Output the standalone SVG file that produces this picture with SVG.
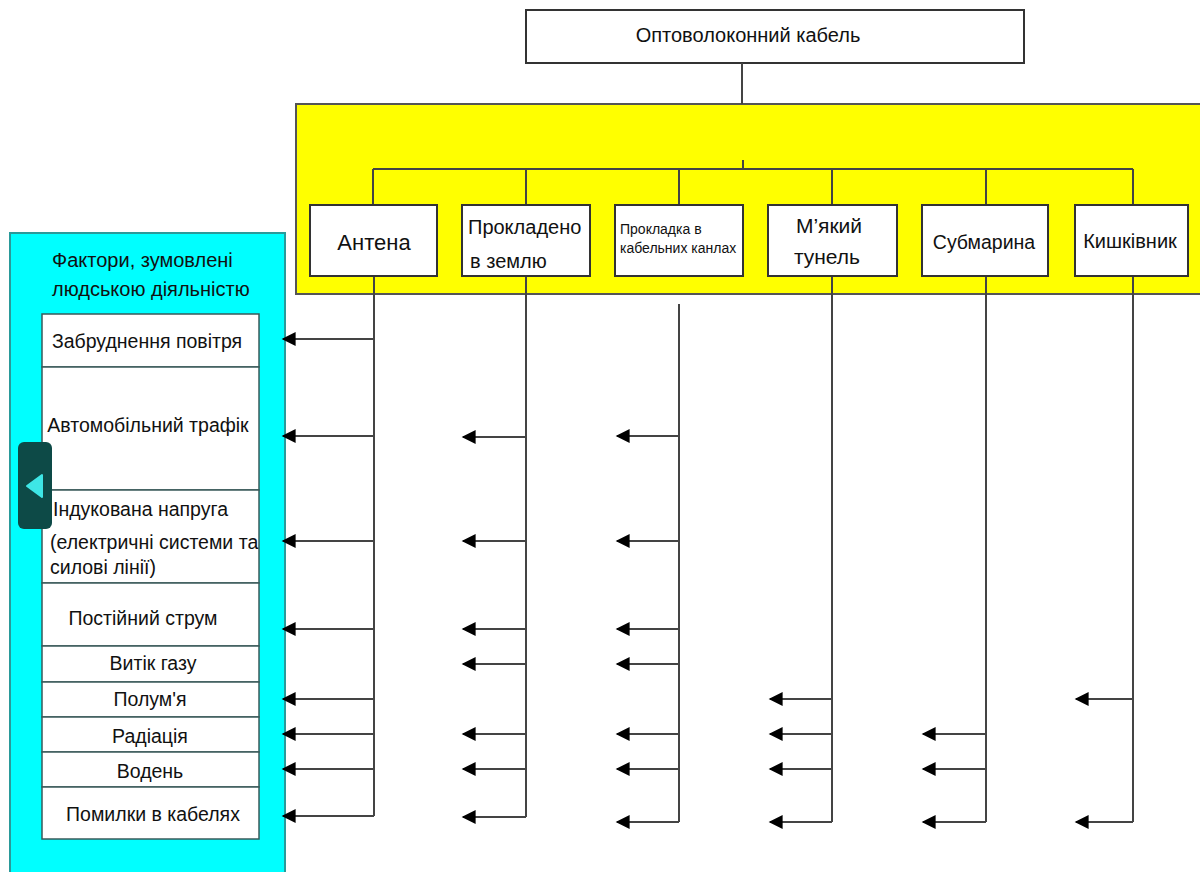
<svg xmlns="http://www.w3.org/2000/svg" width="1200" height="872" viewBox="0 0 1200 872">
<defs>
<style>
.box{fill:#fff;stroke:#333;stroke-width:2}
.cell{fill:#fff;stroke:#3a5a5a;stroke-width:1.5}
.t{font-family:"Liberation Sans","Open Sans",sans-serif;fill:#111}
.c{text-anchor:middle}
.f{font-size:19.5px}
.ln{stroke:#444;stroke-width:2;fill:none}
.ar{stroke:#444;stroke-width:2;fill:none;marker-end:url(#ah)}
</style>
<marker id="ah" viewBox="0 0 10 10" refX="9" refY="5" markerWidth="16" markerHeight="14" markerUnits="userSpaceOnUse" orient="auto">
<path d="M0,0 L10,5 L0,10 z" fill="#000"/>
</marker>
</defs>
<rect width="1200" height="872" fill="#fff"/>

<g id="root">
<rect class="box" x="526" y="10" width="498" height="53"/>
<text class="t c" x="748" y="42" font-size="20">Оптоволоконний кабель</text>
</g>

<g id="yellow-panel">
<rect x="296" y="104" width="910" height="190" fill="#ffff00" stroke="#555" stroke-width="2"/>
</g>

<g id="human-factors">
<rect x="10" y="233" width="275" height="650" fill="#00ffff" stroke="#2a9a9a" stroke-width="2"/>
<text class="t" x="52" y="267" font-size="20">Фактори, зумовлені</text>
<text class="t" x="52" y="296" font-size="20">людською діяльністю</text>
</g>

<g id="f1"><rect class="cell" x="42" y="314" width="217" height="53"/><text class="t c f" x="147" y="348">Забруднення повітря</text></g>
<g id="f2"><rect class="cell" x="42" y="367" width="217" height="123"/><text class="t c f" x="148" y="432">Автомобільний трафік</text></g>
<g id="f3"><rect class="cell" x="42" y="490" width="217" height="93"/>
<text class="t f" x="53" y="516">Індукована напруга</text>
<text class="t f" x="50" y="549">(електричні системи та</text>
<text class="t f" x="50" y="574">силові лінії)</text></g>
<g id="f4"><rect class="cell" x="42" y="583" width="217" height="63"/><text class="t c f" x="143" y="625">Постійний струм</text></g>
<g id="f5"><rect class="cell" x="42" y="646" width="217" height="36"/><text class="t c f" x="153" y="670">Витік газу</text></g>
<g id="f6"><rect class="cell" x="42" y="682" width="217" height="35"/><text class="t c f" x="150" y="706">Полум'я</text></g>
<g id="f7"><rect class="cell" x="42" y="717" width="217" height="35"/><text class="t c f" x="150" y="743">Радіація</text></g>
<g id="f8"><rect class="cell" x="42" y="752" width="217" height="35"/><text class="t c f" x="150" y="778">Водень</text></g>
<g id="f9"><rect class="cell" x="42" y="787" width="217" height="52"/><text class="t c f" x="153" y="821">Помилки в кабелях</text></g>

<g id="tab">
<rect x="18" y="442" width="34" height="87" rx="6" fill="#0d4a47"/>
<path d="M27,486 L42,475 L42,497 Z" fill="#3ee6e6" stroke="#3ee6e6" stroke-width="2" stroke-linejoin="round"/>
</g>

<g id="connectors">
<path class="ln" d="M742,63 V104 M743,160 V169 M373,169 H1133 M373,169 V205 M526,169 V205 M679,169 V205 M832,169 V205 M986,169 V205 M1133,169 V205"/>
<path class="ln" d="M374,276 V816 M526,276 V817 M679,304 V822 M832,276 V822 M986,276 V822 M1133,276 V822"/>
<path class="ar" d="M374,339 H283"/>
<path class="ar" d="M374,436 H283"/>
<path class="ar" d="M374,541 H283"/>
<path class="ar" d="M374,629 H283"/>
<path class="ar" d="M374,699 H283"/>
<path class="ar" d="M374,734 H283"/>
<path class="ar" d="M374,769 H283"/>
<path class="ar" d="M374,816 H283"/>
<path class="ar" d="M526,437 H463"/>
<path class="ar" d="M526,541 H463"/>
<path class="ar" d="M526,629 H463"/>
<path class="ar" d="M526,664 H463"/>
<path class="ar" d="M526,734 H463"/>
<path class="ar" d="M526,769 H463"/>
<path class="ar" d="M526,817 H463"/>
<path class="ar" d="M679,436 H617"/>
<path class="ar" d="M679,541 H617"/>
<path class="ar" d="M679,629 H617"/>
<path class="ar" d="M679,664 H617"/>
<path class="ar" d="M679,734 H617"/>
<path class="ar" d="M679,769 H617"/>
<path class="ar" d="M679,822 H617"/>
<path class="ar" d="M832,699 H770"/>
<path class="ar" d="M832,734 H770"/>
<path class="ar" d="M832,769 H770"/>
<path class="ar" d="M832,822 H770"/>
<path class="ar" d="M986,734 H923"/>
<path class="ar" d="M986,769 H923"/>
<path class="ar" d="M986,822 H923"/>
<path class="ar" d="M1133,699 H1076"/>
<path class="ar" d="M1133,822 H1076"/>
</g>

<g id="antena"><rect class="box" x="310" y="205" width="127" height="71"/><text class="t c" x="374" y="250" font-size="22">Антена</text></g>
<g id="ground"><rect class="box" x="462" y="205" width="128" height="71"/>
<text class="t" x="468" y="234" font-size="20">Прокладено</text>
<text class="t" x="470" y="268" font-size="20">в землю</text></g>
<g id="ducts"><rect class="box" x="615" y="205" width="128" height="71"/>
<text class="t" x="620" y="234" font-size="14">Прокладка в</text>
<text class="t" x="620" y="253" font-size="14">кабельних канлах</text></g>
<g id="tunnel"><rect class="box" x="768" y="205" width="129" height="71"/>
<text class="t c" x="829" y="233" font-size="21">М’який</text>
<text class="t c" x="827" y="264" font-size="21">тунель</text></g>
<g id="submarine"><rect class="box" x="922" y="205" width="126" height="71"/><text class="t c" x="984" y="249" font-size="19.5">Субмарина</text></g>
<g id="intestine"><rect class="box" x="1075" y="205" width="113" height="71"/><text class="t c" x="1130" y="248" font-size="20">Кишківник</text></g>
</svg>
